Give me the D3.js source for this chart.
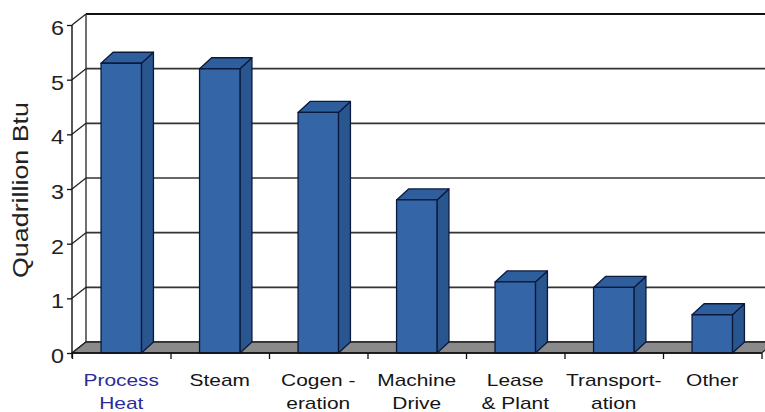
<!DOCTYPE html>
<html>
<head>
<meta charset="utf-8">
<script src="https://cdn.jsdelivr.net/npm/d3@7"></script>
<style>
  html, body { margin: 0; padding: 0; background: #fff; }
  svg { display: block; }
  text { font-family: "Liberation Sans", Arial, sans-serif; }
</style>
</head>
<body>
<svg id="chart" width="765" height="412"></svg>
<script>
// ---- data ----
const categories = [
  ["Process", "Heat"],
  ["Steam"],
  ["Cogen -", "eration"],
  ["Machine", "Drive"],
  ["Lease", "& Plant"],
  ["Transport-", "ation"],
  ["Other"]
];
const values = [5.3, 5.2, 4.4, 2.8, 1.3, 1.2, 0.7];
const yTicks = [0, 1, 2, 3, 4, 5, 6];
const yTitle = "Quadrillion Btu";

// ---- layout ----
const W = 765, H = 412;
const mLeft = 72, mRight = 761.5, mTop = 25, mBottom = 353;
const DX = 14, DY = 11;      // wall depth
const BDX = 12, BDY = 11;    // bar depth

const svg = d3.select("#chart");

const x = d3.scaleBand().domain(d3.range(categories.length)).range([mLeft, mRight]).padding(0);
const xb = d3.scaleLinear().domain([0, categories.length]).range([mLeft, mRight]);
const y = d3.scaleLinear().domain([0, 6]).range([mBottom, mTop]);

const barW = x.bandwidth() * 0.41;

// back wall gridlines
const grid = svg.append("g");
yTicks.forEach(t => {
  const yy = y(t);
  grid.append("line")
    .attr("x1", mLeft + DX).attr("x2", W + 5)
    .attr("y1", yy - DY).attr("y2", yy - DY)
    .attr("stroke", t === 6 ? "#111" : "#333")
    .attr("stroke-width", t === 6 ? 2 : 1.6);
  grid.append("line")
    .attr("x1", mLeft).attr("y1", yy)
    .attr("x2", mLeft + DX).attr("y2", yy - DY)
    .attr("stroke", "#222").attr("stroke-width", 1.3);
});
grid.append("line")
  .attr("x1", mLeft + DX).attr("x2", mLeft + DX)
  .attr("y1", y(6) - DY).attr("y2", y(0) - DY)
  .attr("stroke", "#222").attr("stroke-width", 1.3);

// floor
svg.append("polygon")
  .attr("points", [
    [mLeft, y(0)], [mLeft + DX, y(0) - DY], [mRight + DX, y(0) - DY], [mRight, y(0)]
  ].map(p => p.join(",")).join(" "))
  .attr("fill", "#8a8a8a").attr("stroke", "#222").attr("stroke-width", 1.3);

// bars
const bars = svg.append("g");
values.forEach((v, i) => {
  const x0 = x(i) + (x.bandwidth() - barW) / 2;
  const x1 = x0 + barW;
  const yt = y(v), yb = y(0);
  const g = bars.append("g").attr("stroke", "#0b1a3c").attr("stroke-width", 1.3).attr("stroke-linejoin", "round");
  g.append("polygon")
    .attr("points", [[x1, yt], [x1 + BDX, yt - BDY], [x1 + BDX, yb - BDY], [x1, yb]].map(p => p.join(",")).join(" "))
    .attr("fill", "#2a5690");
  g.append("polygon")
    .attr("points", [[x0, yt], [x0 + BDX, yt - BDY], [x1 + BDX, yt - BDY], [x1, yt]].map(p => p.join(",")).join(" "))
    .attr("fill", "#2e5e9c");
  g.append("rect")
    .attr("x", x0).attr("y", yt).attr("width", barW).attr("height", yb - yt)
    .attr("fill", "#3465a7");
});

// y axis
const sx = 1.17;
const yAxis = svg.append("g")
  .attr("transform", `translate(${mLeft},0)`)
  .call(d3.axisLeft(y).tickValues(yTicks).tickFormat(d3.format("d")).tickSize(5).tickPadding(8));
yAxis.select(".domain").attr("stroke", "#111").attr("stroke-width", 1.4).attr("d", `M0,${mTop}V${mBottom + 5}`);
yAxis.selectAll(".tick line").attr("stroke", "#111").attr("stroke-width", 1.3);
yAxis.selectAll(".tick text")
  .attr("font-size", 20).attr("fill", "#222")
  .attr("font-family", "Liberation Sans, Arial, sans-serif")
  .attr("dy", "0.48em")
  .attr("x", -8 / sx)
  .attr("transform", `scale(${sx},1)`);

// x axis (ticks at band boundaries)
const xAxis = svg.append("g")
  .attr("transform", `translate(0,${mBottom})`)
  .call(d3.axisBottom(xb).tickValues(d3.range(categories.length + 1)).tickSize(6).tickFormat(""));
xAxis.select(".domain").attr("stroke", "#111").attr("stroke-width", 1.4).attr("d", `M${mLeft},0H${mRight}`);
xAxis.selectAll(".tick line").attr("stroke", "#111").attr("stroke-width", 1.3);

// category labels
const lsx = 1.23;
categories.forEach((lines, i) => {
  const cx = x(i) + x.bandwidth() / 2;
  lines.forEach((ln, j) => {
    svg.append("text")
      .attr("transform", `translate(${cx},${386 + j * 23}) scale(${lsx},1)`)
      .attr("text-anchor", "middle")
      .attr("font-size", 17)
      .attr("fill", i === 0 ? "#2c2c98" : "#151515")
      .text(ln);
  });
});

// y title
svg.append("text")
  .attr("transform", `translate(28,190) rotate(-90)`)
  .attr("text-anchor", "middle")
  .attr("font-size", 22)
  .attr("fill", "#222")
  .attr("textLength", 176)
  .attr("lengthAdjust", "spacingAndGlyphs")
  .text(yTitle);
</script>
</body>
</html>
